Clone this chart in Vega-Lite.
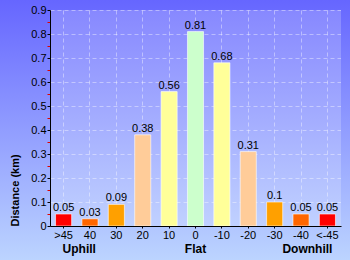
{
  "$schema": "https://vega.github.io/schema/vega-lite/v6.json",
  "width": 291,
  "height": 216,
  "autosize": {"type": "none"},
  "padding": {"left": 50, "top": 10, "right": 9, "bottom": 34},
  "background": "#9aa8ff",
  "config": {
    "view": {
      "stroke": null,
      "fill": {"gradient": "linear", "x1": 0, "y1": 0, "x2": 0, "y2": 1, "stops": [{"offset": 0, "color": "#8788ff"}, {"offset": 1, "color": "#c0d1ff"}]}
    }
  },
  "resolve": {"scale": {"x": "independent", "y": "independent"}, "axis": {"x": "independent", "y": "independent"}},
  "layer": [
    {
      "data": {"values": [{}]},
      "mark": {"type": "rect", "strokeWidth": 0, "color": {"gradient": "linear", "x1": 0, "y1": 0, "x2": 0, "y2": 1, "stops": [{"offset": 0, "color": "#6666ff"}, {"offset": 1, "color": "#bcd4ff"}]}},
      "encoding": {
        "x": {"datum": -0.1719, "type": "quantitative", "scale": {"domain": [0, 1], "nice": false, "zero": false}, "axis": null},
        "x2": {"datum": 0},
        "y": {"datum": -0.1574, "type": "quantitative", "scale": {"domain": [0, 1], "nice": false, "zero": false}, "axis": null},
        "y2": {"datum": 1.0463}
      }
    },
    {
      "data": {"values": [{}]},
      "mark": {"type": "rect", "strokeWidth": 0, "color": {"gradient": "linear", "x1": 0, "y1": 0, "x2": 0, "y2": 1, "stops": [{"offset": 0, "color": "#6666ff"}, {"offset": 1, "color": "#bcd4ff"}]}},
      "encoding": {
        "x": {"datum": 1, "type": "quantitative", "scale": {"domain": [0, 1], "nice": false, "zero": false}, "axis": null},
        "x2": {"datum": 1.031},
        "y": {"datum": -0.1574, "type": "quantitative", "scale": {"domain": [0, 1], "nice": false, "zero": false}, "axis": null},
        "y2": {"datum": 1.0463}
      }
    },
    {
      "data": {"values": [{}]},
      "mark": {"type": "rect", "strokeWidth": 0, "color": {"gradient": "linear", "x1": 0, "y1": 0, "x2": 0, "y2": 1, "stops": [{"offset": 0, "color": "#6666ff"}, {"offset": 1, "color": "#696aff"}]}},
      "encoding": {
        "x": {"datum": 0, "type": "quantitative", "scale": {"domain": [0, 1], "nice": false, "zero": false}, "axis": null},
        "x2": {"datum": 1},
        "y": {"datum": 1, "type": "quantitative", "scale": {"domain": [0, 1], "nice": false, "zero": false}, "axis": null},
        "y2": {"datum": 1.0463}
      }
    },
    {
      "data": {"values": [{}]},
      "mark": {"type": "rect", "strokeWidth": 0, "color": {"gradient": "linear", "x1": 0, "y1": 0, "x2": 0, "y2": 1, "stops": [{"offset": 0, "color": "#b1c6ff"}, {"offset": 1, "color": "#bcd4ff"}]}},
      "encoding": {
        "x": {"datum": 0, "type": "quantitative", "scale": {"domain": [0, 1], "nice": false, "zero": false}, "axis": null},
        "x2": {"datum": 1},
        "y": {"datum": -0.1574, "type": "quantitative", "scale": {"domain": [0, 1], "nice": false, "zero": false}, "axis": null},
        "y2": {"datum": 0}
      }
    },
    {
      "data": {
        "values": [
          {"grade": ">45", "km": 0.05},
          {"grade": "40", "km": 0.03},
          {"grade": "30", "km": 0.09},
          {"grade": "20", "km": 0.38},
          {"grade": "10", "km": 0.56},
          {"grade": "0", "km": 0.81},
          {"grade": "-10", "km": 0.68},
          {"grade": "-20", "km": 0.31},
          {"grade": "-30", "km": 0.1},
          {"grade": "-40", "km": 0.05},
          {"grade": "<-45", "km": 0.05}
        ]
      },
      "resolve": {"axis": {"x": "independent", "y": "independent"}},
      "layer": [
        {
          "mark": {"type": "bar", "stroke": "#ffffff", "strokeOpacity": 0.6, "strokeWidth": 1},
          "encoding": {
            "x": {
              "field": "grade", "type": "nominal",
              "scale": {"domain": [">45", "40", "30", "20", "10", "0", "-10", "-20", "-30", "-40", "<-45"], "paddingInner": 0.39, "paddingOuter": 0.21},
              "axis": {"orient": "bottom", "grid": true, "gridColor": "#ffffff", "gridOpacity": 0.4, "gridDash": [4, 3], "domain": false, "ticks": false, "labels": false, "title": null, "zindex": 0}
            },
            "y": {
              "field": "km", "type": "quantitative",
              "scale": {"domain": [0, 0.9], "nice": false, "zero": true},
              "axis": {"orient": "left", "values": [0.1, 0.2, 0.3, 0.4, 0.5, 0.6, 0.7, 0.8, 0.9], "grid": true, "gridColor": "#ffffff", "gridOpacity": 0.4, "gridDash": [4, 3], "domain": false, "ticks": false, "labels": false, "title": null, "zindex": 0}
            },
            "color": {
              "field": "grade", "type": "nominal",
              "scale": {
                "domain": [">45", "40", "30", "20", "10", "0", "-10", "-20", "-30", "-40", "<-45"],
                "range": ["#ff0000", "#ff6600", "#ffa000", "#ffcc99", "#ffff99", "#ccffcc", "#ffff99", "#ffcc99", "#ffa000", "#ff6600", "#ff0000"]
              },
              "legend": null
            }
          }
        },
        {
          "mark": {"type": "text", "baseline": "bottom", "dy": -1, "font": "Liberation Sans", "fontSize": 11, "color": "#000000"},
          "encoding": {
            "x": {
              "field": "grade", "type": "nominal",
              "axis": {"orient": "bottom", "grid": false, "domain": true, "domainColor": "#000000", "domainWidth": 1, "ticks": true, "tickColor": "#000000", "tickSize": 2, "labelAngle": 0, "labelFont": "Liberation Sans", "labelFontSize": 11, "labelColor": "#000000", "labelPadding": 1, "title": null, "zindex": 1}
            },
            "y": {
              "field": "km", "type": "quantitative",
              "axis": {
                "orient": "left",
                "values": [0, 0.05, 0.1, 0.15, 0.2, 0.25, 0.3, 0.35, 0.4, 0.45, 0.5, 0.55, 0.6, 0.65, 0.7, 0.75, 0.8, 0.85, 0.9],
                "format": "~g",
                "grid": false, "domain": true, "domainColor": "#000000", "domainWidth": 1,
                "ticks": true,
                "tickColor": {"condition": {"test": "round(datum.value*100)%10==5", "value": "#dd0000"}, "value": "#000000"},
                "tickSize": 3,
                "labelExpr": "round(datum.value*100)%10==5 ? '' : datum.label",
                "labelFont": "Liberation Sans", "labelFontSize": 11, "labelColor": "#000000", "labelPadding": 1,
                "title": "Distance (km)", "titleFont": "Liberation Sans", "titleFontSize": 11, "titleFontWeight": "bold", "titleColor": "#000000",
                "titleAnchor": "start", "titlePadding": 10,
                "zindex": 1
              }
            },
            "text": {"field": "km", "type": "quantitative", "format": "~g"}
          }
        },
        {
          "data": {"values": [{"grade": ">45", "label": "Uphill"}]},
          "mark": {"type": "text", "align": "left", "baseline": "alphabetic", "dx": -1, "dy": 27, "font": "Liberation Sans", "fontSize": 12, "fontWeight": "bold", "color": "#000000"},
          "encoding": {
            "x": {"field": "grade", "type": "nominal", "axis": null},
            "y": {"datum": 0, "type": "quantitative", "axis": null},
            "text": {"field": "label"}
          }
        },
        {
          "data": {"values": [{"grade": "0", "label": "Flat"}]},
          "mark": {"type": "text", "align": "center", "baseline": "alphabetic", "dy": 27, "font": "Liberation Sans", "fontSize": 12, "fontWeight": "bold", "color": "#000000"},
          "encoding": {
            "x": {"field": "grade", "type": "nominal", "axis": null},
            "y": {"datum": 0, "type": "quantitative", "axis": null},
            "text": {"field": "label"}
          }
        },
        {
          "data": {"values": [{"grade": "<-45", "label": "Downhill"}]},
          "mark": {"type": "text", "align": "right", "baseline": "alphabetic", "dx": 5, "dy": 27, "font": "Liberation Sans", "fontSize": 12, "fontWeight": "bold", "color": "#000000"},
          "encoding": {
            "x": {"field": "grade", "type": "nominal", "axis": null},
            "y": {"datum": 0, "type": "quantitative", "axis": null},
            "text": {"field": "label"}
          }
        }
      ]
    }
  ]
}
